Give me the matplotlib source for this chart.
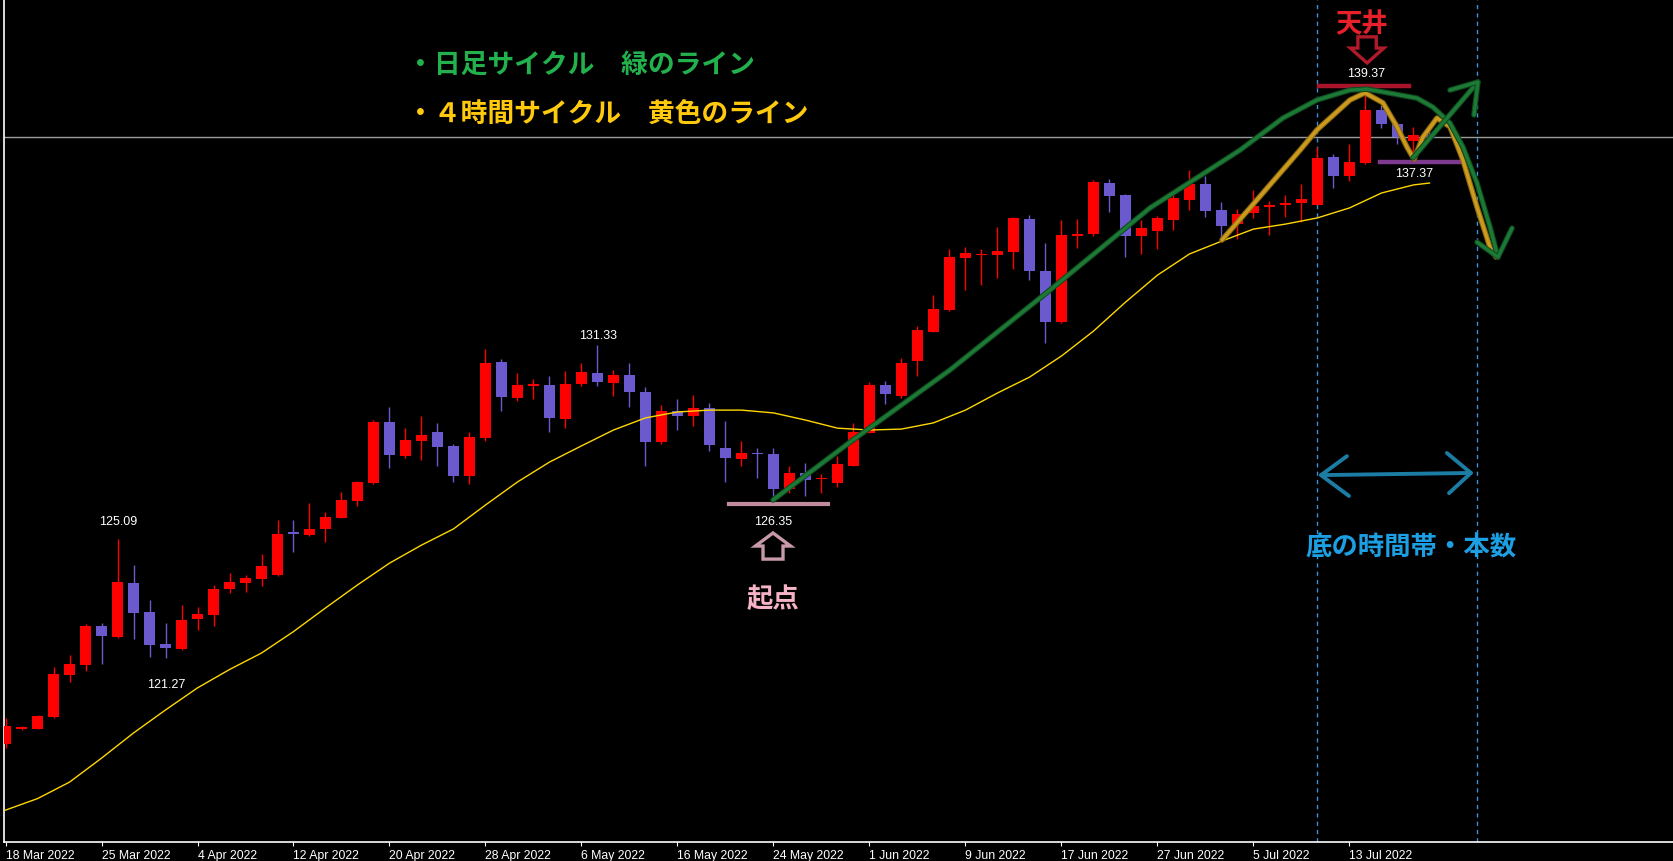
import matplotlib
matplotlib.use('Agg')
import matplotlib.pyplot as plt
import matplotlib.patheffects as pe
from matplotlib.patches import FancyArrow

# daily candles, 18 Mar 2022 .. 20 Jul 2022 (index = bar number)
opens = [
    118.51, 118.99, 119.00, 119.37, 120.72, 121.05, 122.30, 121.95, 123.68, 122.75,
    121.72, 121.56, 122.52, 122.65, 123.49, 123.68, 123.81, 123.94, 125.30, 125.22,
    125.42, 125.78, 126.33, 126.90, 128.86, 127.77, 128.26, 128.54, 128.09, 127.13,
    128.35, 130.79, 129.64, 130.03, 130.05, 128.96, 130.09, 130.43, 130.11, 130.37,
    129.82, 128.21, 129.21, 129.06, 129.31, 128.02, 127.67, 127.86, 127.83, 126.71,
    127.22, 127.01, 126.90, 127.45, 128.51, 130.05, 129.70, 130.82, 131.76, 132.46,
    134.14, 134.22, 134.23, 134.33, 135.39, 133.71, 132.07, 134.85, 134.90, 136.54,
    136.16, 134.84, 134.99, 135.35, 135.99, 136.51, 135.67, 135.22, 135.59, 135.78,
    135.82, 135.90, 135.83, 137.38, 136.77, 137.19, 138.89, 138.44, 137.89, 138.09]
closes = [
    119.08, 119.03, 119.41, 120.76, 121.08, 122.30, 121.99, 123.71, 122.73, 121.70,
    121.60, 122.49, 122.69, 123.49, 123.71, 123.84, 124.23, 125.26, 125.26, 125.42,
    125.80, 126.35, 126.93, 128.86, 127.80, 128.28, 128.44, 128.05, 127.13, 128.37,
    130.75, 129.66, 130.05, 130.07, 129.00, 130.08, 130.47, 130.15, 130.37, 129.83,
    128.21, 129.21, 129.06, 129.31, 128.12, 127.71, 127.86, 127.82, 126.71, 127.22,
    126.99, 127.05, 127.51, 128.55, 130.05, 129.77, 130.74, 131.81, 132.49, 134.16,
    134.29, 134.27, 134.36, 135.42, 133.71, 132.07, 134.87, 134.89, 136.57, 136.13,
    134.84, 135.09, 135.42, 136.06, 136.51, 135.64, 135.16, 135.54, 135.80, 135.82,
    135.90, 136.03, 137.35, 136.77, 137.22, 138.89, 138.44, 138.01, 138.09, 138.00]
highs = [
    119.35, 119.10, 119.44, 120.98, 121.37, 122.36, 122.40, 125.09, 124.25, 123.14,
    122.40, 122.97, 122.91, 123.62, 124.00, 123.94, 124.61, 125.71, 125.71, 126.25,
    125.96, 126.61, 126.95, 128.92, 129.34, 128.66, 129.05, 128.84, 128.15, 128.54,
    131.20, 130.88, 130.43, 130.24, 130.34, 130.50, 130.75, 131.33, 130.53, 130.75,
    129.98, 129.40, 129.60, 129.73, 129.47, 128.89, 128.25, 128.02, 128.02, 127.45,
    127.54, 127.19, 127.77, 128.82, 130.13, 130.18, 130.91, 131.95, 132.94, 134.42,
    134.48, 134.42, 135.13, 135.44, 135.51, 134.61, 135.35, 135.38, 136.64, 136.67,
    136.19, 135.35, 135.48, 136.32, 136.96, 136.77, 135.93, 135.71, 136.32, 135.96,
    136.16, 136.51, 137.70, 137.47, 137.80, 139.37, 139.05, 138.50, 138.34, 138.28]
lows = [
    118.39, 118.96, 118.98, 119.34, 120.51, 120.86, 121.09, 121.91, 121.89, 121.30,
    121.27, 121.53, 122.17, 122.30, 123.36, 123.39, 123.59, 123.92, 124.69, 125.20,
    125.00, 125.77, 126.17, 126.86, 127.38, 127.71, 127.65, 127.45, 126.94, 126.87,
    128.26, 129.22, 129.54, 129.60, 128.55, 128.68, 130.01, 130.01, 129.69, 129.34,
    127.45, 128.15, 128.60, 128.73, 127.93, 126.94, 127.45, 127.07, 126.35, 126.58,
    126.49, 126.58, 126.78, 127.44, 128.49, 129.45, 129.62, 130.35, 131.74, 132.43,
    133.10, 133.26, 133.49, 133.78, 133.42, 131.41, 132.05, 134.45, 134.84, 135.61,
    134.16, 134.26, 134.42, 135.03, 135.67, 135.45, 134.71, 134.75, 135.42, 134.87,
    135.45, 135.29, 135.82, 136.38, 136.61, 137.15, 138.31, 137.80, 137.37, 137.97]

# moving average read at some bars
ma_idx = [0, 2, 4, 6, 8, 10, 12, 14, 16, 18, 20, 22, 24, 26, 28, 30, 32, 34, 36, 38,
          40, 42, 44, 46, 48, 50, 52, 54, 56, 58, 60, 62, 64, 66, 68, 70, 72, 74, 76,
          78, 80, 82, 84, 86, 88, 89]
ma_val = [116.38, 116.75, 117.28, 118.05, 118.86, 119.60, 120.31, 120.90, 121.43,
          122.12, 122.88, 123.62, 124.32, 124.90, 125.42, 126.19, 126.93, 127.57,
          128.09, 128.60, 128.99, 129.18, 129.24, 129.24, 129.15, 128.92, 128.66,
          128.60, 128.63, 128.83, 129.24, 129.79, 130.30, 130.98, 131.78, 132.71,
          133.58, 134.26, 134.67, 135.06, 135.22, 135.42, 135.74, 136.22, 136.48, 136.54]

tick_idx = list(range(0, 85, 6))
tick_labels = ['18 Mar 2022', '25 Mar 2022', '4 Apr 2022', '12 Apr 2022', '20 Apr 2022',
               '28 Apr 2022', '6 May 2022', '16 May 2022', '24 May 2022', '1 Jun 2022',
               '9 Jun 2022', '17 Jun 2022', '27 Jun 2022', '5 Jul 2022', '13 Jul 2022']

bid = 138.02
cycle_lines = [82, 92]

# hand drawn marks (bar index, price)
green_x = [47.97, 52.78, 59.03, 65.28, 71.53, 77.16, 79.84, 81.97, 84.03, 85.09,
           86.09, 88.22, 89.22, 90.28, 91.09, 91.97, 92.78, 93.28]
green_y = [126.35, 128.21, 130.53, 133.10, 135.74, 137.60, 138.63, 139.21, 139.53,
           139.56, 139.47, 139.27, 138.98, 138.47, 137.70, 136.54, 135.13, 134.16]
green_head_x = [91.97, 93.28, 94.16]
green_head_y = [134.64, 134.16, 135.09]
green_up_x = [87.97, 92.03]
green_up_y = [137.35, 139.79]
green_up_head_x = [90.28, 92.03, 91.78]
green_up_head_y = [139.53, 139.79, 138.73]

yellow_x = [76.03, 77.78, 80.91, 81.97, 84.03, 84.97, 86.09, 86.97, 87.59, 88.03,
            88.59, 89.47, 90.28, 91.09, 91.97, 92.78, 93.16]
yellow_y = [134.71, 135.74, 137.60, 138.25, 139.21, 139.44, 139.12, 138.35, 137.70,
            137.31, 138.02, 138.63, 138.35, 137.28, 135.77, 134.48, 134.16]

blue_x = [82.22, 91.59]
blue_y = [127.15, 127.22]
blue_lhead_x = [83.84, 82.22, 83.97]
blue_lhead_y = [127.76, 127.15, 126.48]
blue_rhead_x = [90.09, 91.59, 90.22]
blue_rhead_y = [127.86, 127.22, 126.57]

JP = ['Noto Sans CJK JP', 'DejaVu Sans']
NUM = ['Liberation Sans', 'DejaVu Sans']

fig = plt.figure(figsize=(16.73, 8.61), dpi=100, facecolor='black')
ax = fig.add_axes([4 / 1673, 19 / 861, 1669 / 1673, 842 / 861])
ax.set_facecolor('black')
ax.set_xlim(-0.094, 104.22)
ax.set_ylim(115.355, 142.425)

n = len(opens)
xs = list(range(n))
cols = ['#FF0000' if closes[i] >= opens[i] else '#6A5ACD' for i in xs]
ax.vlines(xs, lows, highs, colors=cols, lw=1.0, zorder=2)
bottoms = [min(opens[i], closes[i]) for i in xs]
heights = [max(abs(closes[i] - opens[i]), 0.05) for i in xs]
ax.bar(xs, heights, bottom=bottoms, width=0.69, color=cols, linewidth=0, zorder=3)

ax.plot(ma_idx, ma_val, color='#FFD700', lw=1.0, zorder=4)
ax.axhline(bid, color='#9C9C9C', lw=1.0, zorder=1)
for c in cycle_lines:
    ax.axvline(c, color='#3C8FE0', lw=1.0, ls=(0, (3, 3)), zorder=1)

chalk_g = [pe.Stroke(linewidth=4.0, foreground='#0F4A20'), pe.Normal()]
chalk_y = [pe.Stroke(linewidth=4.0, foreground='#8A6810'), pe.Normal()]
ax.plot(yellow_x, yellow_y, color='#D4A020', lw=2.4, zorder=6, solid_capstyle='round',
        solid_joinstyle='round', path_effects=chalk_y, alpha=0.9)
for px, py in [(green_x, green_y), (green_head_x, green_head_y),
               (green_up_x, green_up_y), (green_up_head_x, green_up_head_y)]:
    ax.plot(px, py, color='#1F8038', lw=2.4, zorder=7, solid_capstyle='round',
            solid_joinstyle='round', path_effects=chalk_g, alpha=0.9)

for px, py in [(blue_x, blue_y), (blue_lhead_x, blue_lhead_y), (blue_rhead_x, blue_rhead_y)]:
    ax.plot(px, py, color='#1B7CA4', lw=2.8, zorder=6, solid_capstyle='round')

# top / bottom marks
ax.plot([82.09, 87.72], [139.66, 139.66], color='#A8142A', lw=3.2, zorder=5)
ax.plot([85.91, 91.41], [137.22, 137.22], color='#7E3A8E', lw=3.2, zorder=5)
ax.plot([45.22, 51.41], [126.22, 126.22], color='#C08C9C', lw=3.0, zorder=5)
ax.add_patch(FancyArrow(85.1, 141.24, 0, -0.84, width=1.15, head_width=2.1,
                        head_length=0.48, length_includes_head=True, fill=False,
                        edgecolor='#B01A2A', lw=2.4, zorder=6))
ax.add_patch(FancyArrow(47.97, 124.45, 0, 0.84, width=1.25, head_width=2.2,
                        head_length=0.42, length_includes_head=True, fill=False,
                        edgecolor='#C89AA8', lw=2.4, zorder=6))

# price labels
for x, y, s in [(7.03, 125.64, '125.09'), (10.03, 120.40, '121.27'), (37.03, 131.62, '131.33'),
                (47.97, 125.64, '126.35'), (85.03, 140.03, '139.37'), (88.03, 136.83, '137.37')]:
    ax.text(x, y, s, color='white', fontsize=9, family=NUM, ha='center', va='center', zorder=8)

ax.text(25.1, 140.33, '・日足サイクル　緑のライン', color='#22B14C', fontsize=19.3,
        family=JP, weight='bold', ha='left', va='center')
ax.text(25.1, 138.72, '・４時間サイクル　黄色のライン', color='#FFC90E', fontsize=19.3,
        family=JP, weight='bold', ha='left', va='center')
ax.text(84.78, 141.62, '天井', color='#E8202A', fontsize=19, family=JP, weight='bold',
        ha='center', va='center')
ax.text(47.97, 123.14, '起点', color='#F7B3C6', fontsize=19, family=JP, weight='bold',
        ha='center', va='center')
ax.text(87.84, 124.81, '底の時間帯・本数', color='#1C9FE3', fontsize=19, family=JP,
        weight='bold', ha='center', va='center')

ax.set_xticks(tick_idx)
ax.set_xticklabels(tick_labels, ha='left', family=NUM, fontsize=8.8, color='white')
ax.set_yticks([])
ax.tick_params(axis='x', direction='out', length=3, color='white', pad=3)
for s in ['top', 'right']:
    ax.spines[s].set_visible(False)
for s in ['left', 'bottom']:
    ax.spines[s].set_color('white')
    ax.spines[s].set_linewidth(1.2)

fig.savefig('out.png', dpi=100, facecolor='black')
